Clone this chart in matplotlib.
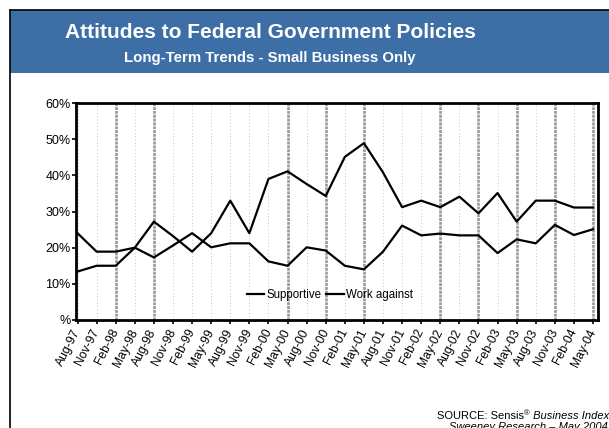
import matplotlib.pyplot as plt
from matplotlib.patches import Rectangle
from matplotlib.lines import Line2D

plt.rcParams['font.family'] = ['Liberation Sans', 'DejaVu Sans']

quarters = ['Aug-97', 'Nov-97', 'Feb-98', 'May-98', 'Aug-98', 'Nov-98', 'Feb-99',
            'May-99', 'Aug-99', 'Nov-99', 'Feb-00', 'May-00', 'Aug-00', 'Nov-00',
            'Feb-01', 'May-01', 'Aug-01', 'Nov-01', 'Feb-02', 'May-02', 'Aug-02',
            'Nov-02', 'Feb-03', 'May-03', 'Aug-03', 'Nov-03', 'Feb-04', 'May-04']

supportive = [24.0, 18.9, 18.9, 20.0, 17.3, 20.6, 24.0, 20.1, 21.2, 21.2, 16.2, 15.0,
              20.1, 19.2, 15.0, 14.0, 18.9, 26.1, 23.4, 23.9, 23.4, 23.4, 18.5, 22.3,
              21.2, 26.3, 23.5, 25.1]
work_against = [13.4, 15.0, 15.0, 20.0, 27.2, 23.2, 18.9, 24.0, 33.0, 24.0, 39.0, 41.1,
                37.6, 34.3, 45.1, 48.9, 40.8, 31.2, 33.0, 31.2, 34.1, 29.5, 35.1, 27.2,
                33.0, 33.0, 31.1, 31.1]

# survey months marked with heavy dashed rules
marked = ['Feb-98', 'Aug-98', 'May-00', 'Nov-00', 'May-01', 'May-02', 'Nov-02',
          'May-03', 'Nov-03', 'May-04']

y_ticks = [0, 10, 20, 30, 40, 50, 60]
y_labels = ['%', '10%', '20%', '30%', '40%', '50%', '60%']

W, H = 609, 428
fig = plt.figure(figsize=(W / 100, H / 100), dpi=100)

# slide frame and header band
fig.patches.append(Rectangle((10 / W, 1 - 73 / H), 1, 63 / H, transform=fig.transFigure,
                             facecolor='#3d6fa6', edgecolor='none', zorder=0))
fig.add_artist(Line2D([10 / W, 10 / W], [0, 1 - 10 / H], transform=fig.transFigure,
                      color='black', lw=1.2))
fig.add_artist(Line2D([10 / W, 1], [1 - 10 / H, 1 - 10 / H], transform=fig.transFigure,
                      color='black', lw=1.2))

fig.text(270 / W, 1 - 38 / H, 'Attitudes to Federal Government Policies', color='white',
         fontsize=15, fontweight='bold', ha='center', va='baseline')
fig.text(270 / W, 1 - 62 / H, 'Long-Term Trends - Small Business Only', color='white',
         fontsize=10.8, fontweight='bold', ha='center', va='baseline')

ax = fig.add_axes([76 / W, 1 - 320 / H, (598 - 76) / W, (320 - 103) / H])
x = list(range(len(quarters)))

for i, q in enumerate(quarters):
    if q in marked:
        ax.axvline(i, color='#999999', lw=1.9, linestyle=(0, (1.1, 0.35)), zorder=1)
    else:
        ax.axvline(i, color='#b0b0b0', lw=0.6, linestyle=(0, (1, 3)), zorder=1)

ax.plot(x, supportive, color='black', lw=1.6, label='Supportive', zorder=3)
ax.plot(x, work_against, color='black', lw=1.6, label='Work against', zorder=3)

ax.set_xlim(-0.08, 27.26)
ax.set_ylim(0, 60)
ax.set_yticks(y_ticks)
ax.set_yticklabels(y_labels, fontsize=9)
ax.set_xticks(x)
ax.set_xticklabels(quarters, fontsize=8.7, rotation=63, ha='right', va='center',
                   rotation_mode='anchor')
ax.tick_params(axis='both', direction='out', length=3, width=1.2, color='black')
ax.tick_params(axis='x', pad=4)
ax.tick_params(axis='y', pad=1)
for s in ax.spines.values():
    s.set_linewidth(2)

fig.legend(loc='center', bbox_to_anchor=(330 / W, 1 - 295 / H), ncol=2, frameon=False,
           fontsize=8.3, handlelength=1.5, handletextpad=0.2, columnspacing=0.4)

# source note, laid out piece by piece along the baseline
renderer = fig.canvas.get_renderer()
pieces = [('SOURCE: Sensis', 8, 'normal', 0), ('\u00ae', 5.5, 'normal', 4),
          (' Business Index', 8, 'italic', 0)]
xpos = 437
for txt, size, style, rise in pieces:
    t = fig.text(xpos / W, 1 - (419 - rise) / H, txt, fontsize=size, style=style,
                 ha='left', va='baseline')
    bb = t.get_window_extent(renderer)
    xpos = bb.x1
fig.text(449 / W, 1 - 430 / H, 'Sweeney Research \u2013 May 2004', fontsize=8,
         style='italic', ha='left', va='baseline')

fig.savefig('out.png', dpi=100)
